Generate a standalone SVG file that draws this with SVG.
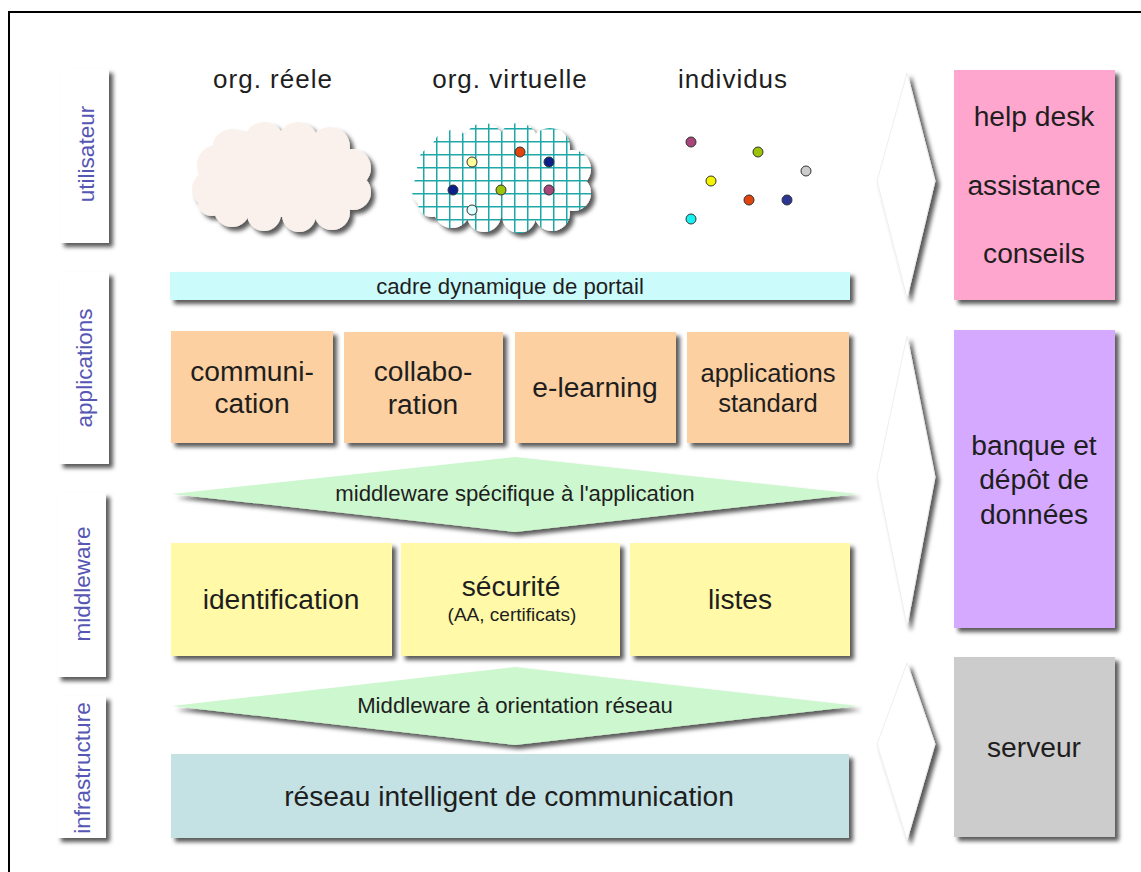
<svg xmlns="http://www.w3.org/2000/svg" width="1141" height="872" viewBox="0 0 1141 872">
<style>
  text { font-family: "Liberation Sans", Arial, sans-serif; fill: #1e1e1e; }
  .big { font-size: 28.2px; text-anchor: middle; }
  .mid { font-size: 25.6px; text-anchor: middle; }
  .small { font-size: 22.2px; text-anchor: middle; }
  .tiny { font-size: 19px; text-anchor: middle; }
  .title { font-size: 26px; text-anchor: middle; letter-spacing: 1px; }
  .side { font-size: 22.5px; text-anchor: middle; fill: #5656b4; }
  .lab { fill: #ffffff; }
  .app { fill: #fcd0a1; }
  .mw { fill: #fff9a8; }
  .green { fill: #cdf7cf; }
  .dot { stroke: #333; stroke-width: 1; }
</style>
<defs>
  <filter id="sh" x="-20%" y="-40%" width="150%" height="200%">
    <feDropShadow dx="4" dy="4" stdDeviation="2" flood-color="#000" flood-opacity="0.65"/>
  </filter>
  <pattern id="grid" patternUnits="userSpaceOnUse" x="12" y="2" width="13" height="13">
    <rect width="13" height="13" fill="#ffffff"/>
    <path d="M0.75 0 V13 M0 0.75 H13" stroke="#1fa8a8" stroke-width="1.5" fill="none"/>
  </pattern>
  <g id="cloud">
    <ellipse cx="0" cy="2" rx="75" ry="38"/>
    <circle cx="-65" cy="-12" r="20"/>
    <circle cx="-72" cy="12" r="18"/>
    <circle cx="-50" cy="-28" r="20"/>
    <circle cx="-18" cy="-35" r="20"/>
    <circle cx="16" cy="-35" r="20"/>
    <circle cx="48" cy="-30" r="20"/>
    <circle cx="70" cy="-9" r="19"/>
    <circle cx="71" cy="15" r="18"/>
    <circle cx="50" cy="35" r="18"/>
    <circle cx="17" cy="38" r="17"/>
    <circle cx="-18" cy="37" r="17"/>
    <circle cx="-50" cy="32" r="18"/>
    <circle cx="-70" cy="25" r="14"/>
  </g>
</defs>

<rect x="0" y="0" width="1141" height="872" fill="#ffffff"/>
<rect x="9" y="12" width="1145" height="870" fill="none" stroke="#000" stroke-width="2"/>

<!-- side labels -->
<g id="lab-utilisateur">
  <rect class="lab" x="60" y="69" width="49" height="174" filter="url(#sh)"/>
  <text class="side" transform="translate(94,154) rotate(-90)">utilisateur</text>
</g>
<g id="lab-applications">
  <rect class="lab" x="59" y="272" width="50" height="192" filter="url(#sh)"/>
  <text class="side" transform="translate(92,368) rotate(-90)">applications</text>
</g>
<g id="lab-middleware">
  <rect class="lab" x="57" y="493" width="49" height="184" filter="url(#sh)"/>
  <text class="side" transform="translate(90,584) rotate(-90)">middleware</text>
</g>
<g id="lab-infrastructure">
  <rect class="lab" x="57" y="696" width="49" height="142" filter="url(#sh)"/>
  <text class="side" transform="translate(90,768) rotate(-90)">infrastructure</text>
</g>

<!-- users -->
<g id="org-reele">
  <text class="title" x="273" y="88">org. réele</text>
  <use href="#cloud" transform="translate(282,177)" fill="#faf1ec" filter="url(#sh)"/>
</g>
<g id="org-virtuelle">
  <text class="title" x="510" y="88">org. virtuelle</text>
  <use href="#cloud" transform="translate(502,178)" fill="url(#grid)" filter="url(#sh)"/>
  <circle class="dot" cx="472" cy="162" r="5" fill="#ffff99"/>
  <circle class="dot" cx="520" cy="152" r="5" fill="#e2440e"/>
  <circle class="dot" cx="549" cy="162" r="5" fill="#0a1f8a"/>
  <circle class="dot" cx="453" cy="190" r="5" fill="#0a1f8a"/>
  <circle class="dot" cx="501" cy="190" r="5" fill="#9cc20a"/>
  <circle class="dot" cx="549" cy="190" r="5" fill="#a8457a"/>
  <circle class="dot" cx="472" cy="210" r="5" fill="#e0ffff"/>
</g>
<g id="individus">
  <text class="title" x="733" y="88">individus</text>
  <circle class="dot" cx="691" cy="142" r="5" fill="#a8457a"/>
  <circle class="dot" cx="758" cy="152" r="5" fill="#9cc20a"/>
  <circle class="dot" cx="806" cy="171" r="5" fill="#cccccc"/>
  <circle class="dot" cx="711" cy="181" r="5" fill="#f4f400"/>
  <circle class="dot" cx="749" cy="200" r="5" fill="#e2440e"/>
  <circle class="dot" cx="787" cy="200" r="5" fill="#2a3594"/>
  <circle class="dot" cx="691" cy="219" r="5" fill="#19f0f0"/>
</g>

<!-- portal -->
<g id="portail">
  <rect x="170" y="272" width="680" height="28" fill="#ccfbfc" filter="url(#sh)"/>
  <text class="small" x="510" y="294">cadre dynamique de portail</text>
</g>

<!-- applications -->
<g id="communication">
  <rect class="app" x="171" y="331" width="162" height="112" filter="url(#sh)"/>
  <text class="big" x="252" y="381">communi-</text>
  <text class="big" x="252" y="413">cation</text>
</g>
<g id="collaboration">
  <rect class="app" x="344" y="332" width="159" height="111" filter="url(#sh)"/>
  <text class="big" x="423" y="381">collabo-</text>
  <text class="big" x="423" y="414">ration</text>
</g>
<g id="elearning">
  <rect class="app" x="515" y="332" width="161" height="111" filter="url(#sh)"/>
  <text class="big" x="595" y="397">e-learning</text>
</g>
<g id="appstandard">
  <rect class="app" x="687" y="332" width="162" height="111" filter="url(#sh)"/>
  <text class="mid" x="768" y="382">applications</text>
  <text class="mid" x="768" y="412">standard</text>
</g>

<!-- middleware spécifique -->
<g id="mw-app">
  <polygon class="green" points="172,494 515,457 858,494 515,532" filter="url(#sh)"/>
  <text class="small" x="515" y="501">middleware spécifique à l'application</text>
</g>

<g id="identification">
  <rect class="mw" x="171" y="543" width="221" height="113" filter="url(#sh)"/>
  <text class="big" x="281" y="609">identification</text>
</g>
<g id="securite">
  <rect class="mw" x="401" y="543" width="219" height="113" filter="url(#sh)"/>
  <text class="big" x="511" y="596">sécurité</text>
  <text class="tiny" x="512" y="621">(AA, certificats)</text>
</g>
<g id="listes">
  <rect class="mw" x="630" y="543" width="220" height="113" filter="url(#sh)"/>
  <text class="big" x="740" y="609">listes</text>
</g>

<!-- middleware réseau -->
<g id="mw-reseau">
  <polygon class="green" points="172,706 515,667 858,706 515,745" filter="url(#sh)"/>
  <text class="small" x="515" y="713">Middleware à orientation réseau</text>
</g>

<g id="reseau">
  <rect x="171" y="754" width="678" height="84" fill="#c4e1e4" filter="url(#sh)"/>
  <text class="big" x="509" y="806">réseau intelligent de communication</text>
</g>

<!-- right column -->
<g id="connectors">
  <polygon points="907,73 935,181 907,298 877,181" fill="#ffffff" stroke="#eeeeee" stroke-width="1" filter="url(#sh)"/>
  <polygon points="907,336 935,477 907,626 877,477" fill="#ffffff" stroke="#eeeeee" stroke-width="1" filter="url(#sh)"/>
  <polygon points="907,663 935,744 907,840 877,744" fill="#ffffff" stroke="#eeeeee" stroke-width="1" filter="url(#sh)"/>
</g>

<g id="helpdesk">
  <rect x="954" y="70" width="161" height="230" fill="#ffa6cf" filter="url(#sh)"/>
  <text class="big" x="1034" y="126">help desk</text>
  <text class="big" x="1034" y="195">assistance</text>
  <text class="big" x="1034" y="263">conseils</text>
</g>
<g id="banque">
  <rect x="954" y="330" width="161" height="298" fill="#d5a9ff" filter="url(#sh)"/>
  <text class="big" x="1034" y="455">banque et</text>
  <text class="big" x="1034" y="489">dépôt de</text>
  <text class="big" x="1034" y="524">données</text>
</g>
<g id="serveur">
  <rect x="954" y="657" width="161" height="180" fill="#cccccc" filter="url(#sh)"/>
  <text class="big" x="1034" y="757">serveur</text>
</g>
</svg>
